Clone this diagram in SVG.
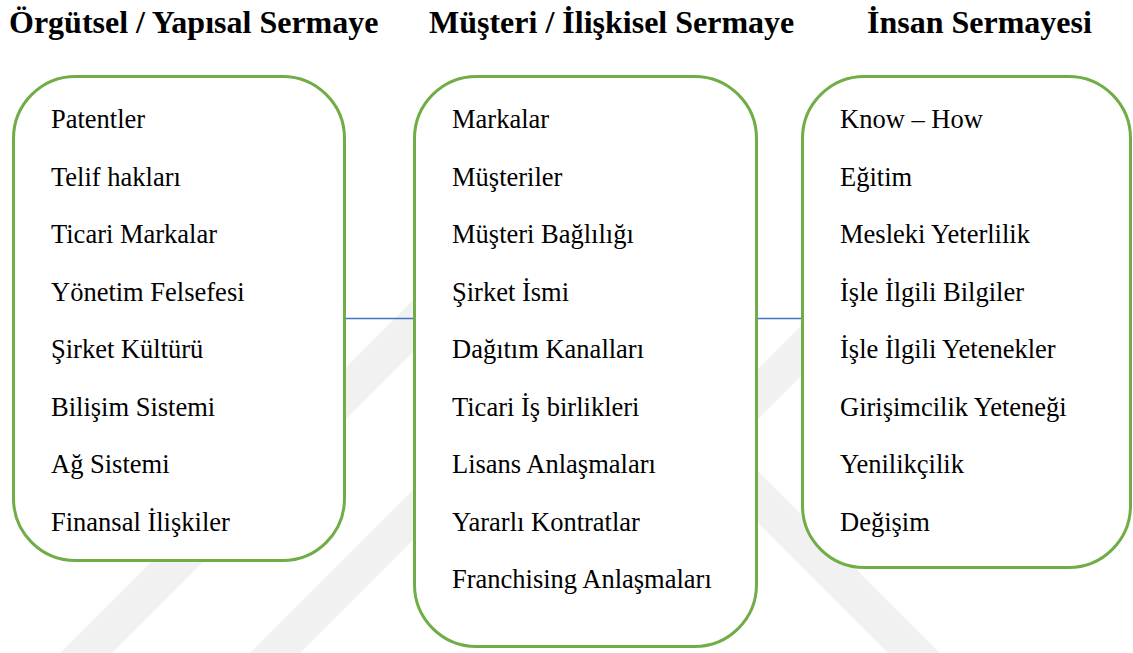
<svg xmlns="http://www.w3.org/2000/svg" width="1133" height="653" viewBox="0 0 1133 653">
<style>
.box{fill:#ffffff;stroke:#70AD47;stroke-width:3}
.item{font-family:"Liberation Serif","Times New Roman",serif;font-size:26.5px;fill:#000}
.title{font-family:"Liberation Serif","Times New Roman",serif;font-size:32px;font-weight:bold;fill:#000}
.conn{stroke:#4472C4;stroke-width:1.5;fill:none}
.wm{fill:#f1f1f1}
</style>
<rect width="1133" height="653" fill="#ffffff"/>
<g id="watermark">
<polygon class="wm" points="60,653 112,653 414,351 414,299"/>
<polygon class="wm" points="250,653 300,653 414,539 414,489"/>
<polygon class="wm" points="757,470 757,522 888,653 940,653"/>
<polygon class="wm" points="757,420 802,375 802,325 757,370"/>
</g>
<g id="titles">
<text class="title" x="9" y="33">Örgütsel / Yapısal Sermaye</text>
<text class="title" x="429" y="33">Müşteri / İlişkisel Sermaye</text>
<text class="title" x="867" y="33">İnsan Sermayesi</text>
</g>
<g id="connectors">
<line class="conn" x1="344" y1="318.5" x2="414" y2="318.5"/>
<line class="conn" x1="757" y1="318.5" x2="802" y2="318.5"/>
</g>
<g id="node-orgutsel">
<rect class="box" x="13.5" y="76.5" width="331" height="484" rx="62" ry="62"/>
<text class="item" x="51" y="128">Patentler</text>
<text class="item" x="51" y="185.5">Telif hakları</text>
<text class="item" x="51" y="243">Ticari Markalar</text>
<text class="item" x="51" y="300.5">Yönetim Felsefesi</text>
<text class="item" x="51" y="358">Şirket Kültürü</text>
<text class="item" x="51" y="415.5">Bilişim Sistemi</text>
<text class="item" x="51" y="473">Ağ Sistemi</text>
<text class="item" x="51" y="530.5">Finansal İlişkiler</text>
</g>
<g id="node-musteri">
<rect class="box" x="414.5" y="76.5" width="342" height="570" rx="62" ry="62"/>
<text class="item" x="452" y="128">Markalar</text>
<text class="item" x="452" y="185.5">Müşteriler</text>
<text class="item" x="452" y="243">Müşteri Bağlılığı</text>
<text class="item" x="452" y="300.5">Şirket İsmi</text>
<text class="item" x="452" y="358">Dağıtım Kanalları</text>
<text class="item" x="452" y="415.5">Ticari İş birlikleri</text>
<text class="item" x="452" y="473">Lisans Anlaşmaları</text>
<text class="item" x="452" y="530.5">Yararlı Kontratlar</text>
<text class="item" x="452" y="588">Franchising Anlaşmaları</text>
</g>
<g id="node-insan">
<rect class="box" x="802.5" y="76.5" width="328" height="491" rx="62" ry="62"/>
<text class="item" x="840" y="128">Know – How</text>
<text class="item" x="840" y="185.5">Eğitim</text>
<text class="item" x="840" y="243">Mesleki Yeterlilik</text>
<text class="item" x="840" y="300.5">İşle İlgili Bilgiler</text>
<text class="item" x="840" y="358">İşle İlgili Yetenekler</text>
<text class="item" x="840" y="415.5">Girişimcilik Yeteneği</text>
<text class="item" x="840" y="473">Yenilikçilik</text>
<text class="item" x="840" y="530.5">Değişim</text>
</g>
</svg>
